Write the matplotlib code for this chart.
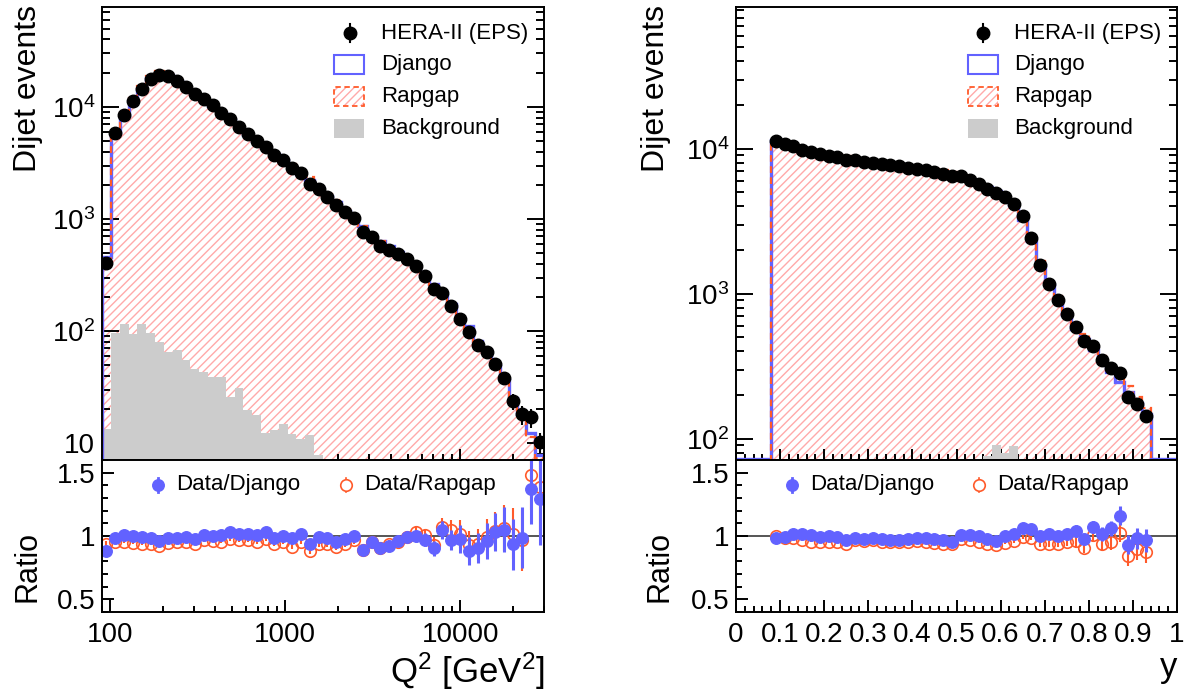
import numpy as np
import matplotlib
matplotlib.use('Agg')
import matplotlib.pyplot as plt
from matplotlib.patches import Rectangle
from matplotlib.ticker import FixedLocator, FixedFormatter, NullFormatter, MultipleLocator, LogLocator

plt.rcParams['font.family'] = ['Liberation Sans', 'DejaVu Sans']
plt.rcParams['mathtext.fontset'] = 'custom'
plt.rcParams['mathtext.rm'] = 'Liberation Sans'
plt.rcParams['mathtext.it'] = 'Liberation Sans:italic'
plt.rcParams['mathtext.bf'] = 'Liberation Sans:bold'
plt.rcParams['hatch.linewidth'] = 1.0

# ---------------- data: Q^2 ----------------
q2_edges = np.logspace(np.log10(90), np.log10(30000), 51)
q2_data = np.array([405, 5860, 8440, 11300, 14500, 17900, 19200, 18800, 16900, 15100,
                    13000, 11800, 10300, 8840, 7870, 6630, 5740, 4940, 4420, 3720,
                    3360, 2830, 2570, 2070, 1870, 1570, 1340, 1160, 1010, 766,
                    691, 578, 525, 490, 436, 383, 312, 237, 218, 168,
                    128, 97, 74.5, 65.3, 50.7, 38.3, 23.5, 18.0, 16.9, 10.2])
q2_data_relerr = np.array([0.03, 0.01, 0.01, 0.01, 0.01, 0.01, 0.01, 0.01, 0.01, 0.01,
                           0.01, 0.01, 0.01, 0.01, 0.01, 0.012, 0.013, 0.014, 0.015, 0.016,
                           0.017, 0.019, 0.02, 0.022, 0.023, 0.025, 0.027, 0.029, 0.031, 0.036,
                           0.038, 0.042, 0.044, 0.045, 0.048, 0.051, 0.057, 0.065, 0.068, 0.077,
                           0.088, 0.10, 0.11, 0.12, 0.10, 0.12, 0.17, 0.20, 0.20, 0.20])
q2_bg = np.array([13.3, 96, 115, 94, 116, 96, 80, 65, 68, 55,
                  46, 43, 39, 39, 25.5, 31, 19.9, 17.9, 12.4, 13.0,
                  14.9, 12.0, 10.9, 11.9, 7.8, 0, 0, 0, 0, 0,
                  0, 0, 0, 0, 0, 0, 0, 0, 0, 0,
                  0, 0, 0, 0, 0, 0, 0, 0, 0, 0])
q2_ratio_django = np.array([0.881, 0.981, 1.011, 1.000, 0.995, 0.987, 0.960, 0.981, 0.987, 0.992,
                            0.974, 1.008, 1.003, 1.008, 1.032, 1.019, 1.019, 1.005, 1.034, 0.987,
                            1.003, 0.987, 1.013, 0.939, 0.992, 0.981, 0.955, 0.976, 1.003, 0.886,
                            0.955, 0.907, 0.918, 0.960, 0.995, 0.997, 0.971, 0.902, 1.045, 0.968,
                            0.976, 0.881, 0.907, 0.960, 1.034, 1.050, 0.934, 0.987, 1.373, 1.296])
q2_ratio_rapgap = np.array([0.934, 0.955, 0.955, 0.947, 0.939, 0.939, 0.921, 0.947, 0.950, 0.955,
                            0.939, 0.966, 0.960, 0.955, 0.974, 0.966, 0.966, 0.955, 0.974, 0.939,
                            0.955, 0.915, 0.955, 0.881, 0.939, 0.934, 0.913, 0.939, 0.966, 0.886,
                            0.955, 0.907, 0.934, 0.955, 0.992, 1.034, 1.008, 0.929, 1.071, 1.050,
                            1.019, 0.929, 0.934, 0.992, 1.040, 1.061, 1.019, 0.966, 1.484, 1.384])
q2_ratio_err = np.array([0.03, 0.01, 0.01, 0.01, 0.01, 0.01, 0.01, 0.01, 0.01, 0.01,
                         0.01, 0.01, 0.01, 0.012, 0.012, 0.013, 0.014, 0.015, 0.016, 0.017,
                         0.018, 0.019, 0.02, 0.022, 0.023, 0.024, 0.026, 0.028, 0.03, 0.032,
                         0.034, 0.036, 0.038, 0.04, 0.042, 0.045, 0.05, 0.06, 0.07, 0.08,
                         0.11, 0.11, 0.12, 0.14, 0.15, 0.18, 0.20, 0.24, 0.28, 0.37])

# ---------------- data: y ----------------
y_edges = np.linspace(0.08, 0.94, 44)
y_data = np.array([11240, 10770, 10380, 9840, 9480, 9190, 8950, 8710, 8350, 8350,
                   8130, 8000, 7880, 7670, 7550, 7360, 7240, 7090, 6900, 6720,
                   6440, 6440, 6080, 5740, 5270, 4940, 4640, 4170, 3440, 2440,
                   1570, 1170, 902, 726, 593, 475, 439, 349, 306, 286,
                   195, 173, 143])
y_data_relerr = np.array([0.01] * 28 + [0.012, 0.014, 0.018, 0.02, 0.023, 0.026, 0.028,
                                        0.032, 0.034, 0.038, 0.04, 0.042, 0.05, 0.053, 0.058])
y_bg = np.array([0] * 24 + [76, 90, 80, 89] + [0] * 15)
y_ratio_django = np.array([0.981, 0.995, 1.013, 1.013, 1.005, 0.992, 0.997, 0.995, 0.966, 0.981,
                           0.979, 0.987, 0.974, 0.966, 0.966, 0.974, 0.987, 0.987, 0.974, 0.968,
                           0.955, 1.005, 1.005, 1.000, 0.974, 0.960, 1.000, 1.019, 1.066, 1.056,
                           0.997, 1.019, 1.000, 1.013, 1.040, 0.974, 1.071, 1.013, 1.061, 1.159,
                           0.929, 0.981, 0.966])
y_ratio_rapgap = np.array([1.000, 0.987, 0.981, 0.966, 0.955, 0.955, 0.955, 0.955, 0.939, 0.968,
                           0.960, 0.966, 0.955, 0.955, 0.955, 0.955, 0.960, 0.955, 0.947, 0.939,
                           0.934, 0.974, 0.968, 0.955, 0.939, 0.929, 0.947, 0.960, 0.992, 0.981,
                           0.934, 0.939, 0.939, 0.952, 0.960, 0.902, 1.005, 0.934, 0.952, 1.026,
                           0.841, 0.894, 0.876])
y_ratio_err = np.array([0.006] * 13 + [0.007] * 5 + [0.008] * 4 + [0.009, 0.009, 0.01, 0.01, 0.01,
                       0.012, 0.013, 0.016, 0.02, 0.023, 0.027, 0.03, 0.05, 0.035, 0.05,
                       0.055, 0.06, 0.075, 0.075, 0.08, 0.09])

# MC predictions follow from Data/MC ratios
q2_django = q2_data / q2_ratio_django
q2_rapgap = q2_data / q2_ratio_rapgap
y_django = y_data / y_ratio_django
y_rapgap = y_data / y_ratio_rapgap

# ---------------- style ----------------
DJ = '#6262ff'
RG = '#ff5a2a'
HATCH = '#ffaaaa'
BG = '#cccccc'
TICKFS = 20
LEGFS = 16
TITLEFS = 23
LW = 1.4
MS = 9.0

W, H = 1192, 693
fig = plt.figure(figsize=(W / 100, H / 100), dpi=100)


def fax(x0, y0, x1, y1):
    return fig.add_axes([x0 / W, 1 - y1 / H, (x1 - x0) / W, (y1 - y0) / H])


axL = fax(102, 7, 544, 460)
rL = fax(102, 460, 544, 612)
axR = fax(736, 7, 1177, 460)
rR = fax(736, 460, 1177, 612)

for a in (axL, rL, axR, rR):
    for s in a.spines.values():
        s.set_linewidth(LW)
        s.set_zorder(10)


def draw_upper(ax, edges, centers, data, relerr, dj, rg, bg, base):
    ax.stairs(rg, edges, baseline=base, fill=True, hatch='////', facecolor='none',
              edgecolor=HATCH, linewidth=0, zorder=1)
    bgp = np.where(bg > 0, bg, base)
    ax.stairs(bgp, edges, baseline=base, fill=True, facecolor=BG, edgecolor='none',
              linewidth=0, zorder=2)
    ax.stairs(dj, edges, baseline=base, color=DJ, lw=2.4, zorder=3)
    ax.stairs(rg, edges, baseline=base, color=RG, lw=1.6, ls=(0, (3, 2)), zorder=4)
    ax.errorbar(centers, data, yerr=data * relerr, fmt='o', color='k', ms=MS,
                elinewidth=1.5, capsize=0, zorder=6, clip_on=True)


def draw_ratio(ax, centers, rdj, rrg, err):
    ax.axhline(1.0, color='#555555', lw=1.4, zorder=1)
    ax.errorbar(centers, rrg, yerr=err, fmt='o', mfc='none', mec=RG, ecolor=RG, mew=1.2,
                ms=8.3, elinewidth=1.5, capsize=0, zorder=3)
    ax.errorbar(centers, rdj, yerr=err, fmt='o', color=DJ, ms=8.3,
                elinewidth=2.2, capsize=0, zorder=4)
    ax.set_ylim(0.4, 1.6)
    ax.yaxis.set_major_locator(FixedLocator([0.5, 1.0, 1.5]))
    ax.yaxis.set_major_formatter(FixedFormatter(['0.5', '1', '1.5']))
    ax.yaxis.set_minor_locator(MultipleLocator(0.1))
    ax.tick_params(axis='y', which='major', direction='in', length=8.5, width=LW,
                   left=True, right=False, labelsize=TICKFS, pad=5)
    ax.tick_params(axis='y', which='minor', direction='in', length=4.3, width=LW,
                   left=True, right=False)
    ax.tick_params(axis='x', which='major', direction='in', length=8.5, width=LW,
                   top=False, bottom=True, labelsize=TICKFS, pad=7)
    ax.tick_params(axis='x', which='minor', direction='in', length=4.3, width=LW,
                   top=False, bottom=True)
    # legend
    t = ax.transAxes
    yl = 0.836
    ax.plot([0.127, 0.127], [yl - 0.046, yl + 0.046], color=DJ, lw=2, transform=t, zorder=5)
    ax.plot([0.127], [yl], 'o', color=DJ, ms=8.3, transform=t, zorder=5)
    ax.text(0.167, yl, 'Data/Django', transform=t, fontsize=LEGFS, va='center', ha='left')
    ax.plot([0.552, 0.552], [yl - 0.046, yl + 0.046], color=RG, lw=1.2, transform=t, zorder=5)
    ax.plot([0.552], [yl], 'o', mfc='white', mec=RG, mew=1.2, ms=8.3, transform=t, zorder=6)
    ax.text(0.593, yl, 'Data/Rapgap', transform=t, fontsize=LEGFS, va='center', ha='left')


def upper_ticks(ax):
    ax.tick_params(axis='y', which='major', direction='in', length=12, width=LW,
                   left=True, right=True, labelsize=TICKFS, pad=5)
    ax.tick_params(axis='y', which='minor', direction='in', length=5.8, width=LW,
                   left=True, right=True)
    ax.tick_params(axis='x', which='major', direction='in', length=8, width=LW,
                   top=False, bottom=True, labelbottom=False)
    ax.tick_params(axis='x', which='minor', direction='in', length=4.3, width=LW,
                   top=False, bottom=True, labelbottom=False)


def legend_upper(ax):
    t = ax.transAxes
    bx0, bx1 = 0.5256, 0.5934
    bh = 0.042
    rows = [0.942, 0.874, 0.802, 0.731]
    tx = 0.6305
    ax.plot([0.561, 0.561], [rows[0] - 0.02, rows[0] + 0.02], color='k', lw=1.5, transform=t, zorder=7)
    ax.plot([0.561], [rows[0]], 'o', color='k', ms=MS, transform=t, zorder=7)
    ax.text(tx, rows[0], 'HERA-II (EPS)', transform=t, fontsize=LEGFS, va='center', ha='left')
    ax.add_patch(Rectangle((bx0, rows[1] - bh / 2), bx1 - bx0, bh, transform=t,
                           facecolor='white', edgecolor=DJ, lw=1.5, zorder=7))
    ax.text(tx, rows[1], 'Django', transform=t, fontsize=LEGFS, va='center', ha='left')
    ax.add_patch(Rectangle((bx0, rows[2] - bh / 2), bx1 - bx0, bh, transform=t,
                           facecolor='white', edgecolor='none', lw=0, zorder=7))
    ax.add_patch(Rectangle((bx0, rows[2] - bh / 2), bx1 - bx0, bh, transform=t, hatch='////',
                           facecolor='none', edgecolor=HATCH, lw=0, zorder=7))
    ax.add_patch(Rectangle((bx0, rows[2] - bh / 2), bx1 - bx0, bh, transform=t,
                           facecolor='none', edgecolor=RG, lw=1.3, ls=(0, (3, 2)), zorder=8))
    ax.text(tx, rows[2], 'Rapgap', transform=t, fontsize=LEGFS, va='center', ha='left')
    ax.add_patch(Rectangle((bx0, rows[3] - bh / 2), bx1 - bx0, bh, transform=t,
                           facecolor=BG, edgecolor='none', lw=0, zorder=7))
    ax.text(tx, rows[3], 'Background', transform=t, fontsize=LEGFS, va='center', ha='left')


# ---------------- left: Q^2 ----------------
q2_centers = np.sqrt(q2_edges[:-1] * q2_edges[1:])
draw_upper(axL, q2_edges, q2_centers, q2_data, q2_data_relerr, q2_django, q2_rapgap, q2_bg, 1.0)
axL.set_xscale('log')
axL.set_yscale('log')
axL.set_xlim(90, 30000)
axL.set_ylim(7.05, 78000)
axL.yaxis.set_major_locator(FixedLocator([10, 100, 1000, 10000]))
axL.yaxis.set_major_formatter(FixedFormatter(['10', r'$10^{2}$', r'$10^{3}$', r'$10^{4}$']))
axL.yaxis.set_minor_locator(LogLocator(base=10, subs=np.arange(2, 10)))
axL.yaxis.set_minor_formatter(NullFormatter())
axL.xaxis.set_major_locator(FixedLocator([100, 1000, 10000]))
axL.xaxis.set_minor_locator(LogLocator(base=10, subs=np.arange(2, 10)))
axL.xaxis.set_minor_formatter(NullFormatter())
upper_ticks(axL)
legend_upper(axL)

draw_ratio(rL, q2_centers, q2_ratio_django, q2_ratio_rapgap, q2_ratio_err)
rL.set_xscale('log')
rL.set_xlim(90, 30000)
rL.xaxis.set_major_locator(FixedLocator([100, 1000, 10000]))
rL.xaxis.set_major_formatter(FixedFormatter(['100', '1000', '10000']))
rL.xaxis.set_minor_locator(LogLocator(base=10, subs=np.arange(2, 10)))
rL.xaxis.set_minor_formatter(NullFormatter())

# ---------------- right: y ----------------
y_centers = 0.5 * (y_edges[:-1] + y_edges[1:])
draw_upper(axR, y_edges, y_centers, y_data, y_data_relerr, y_django, y_rapgap, y_bg, 10.0)
axR.plot([0.0, y_edges[0]], [0.003, 0.003], color=DJ, lw=2.4,
         transform=axR.get_xaxis_transform(), zorder=3)
axR.plot([y_edges[-1], 1.0], [0.003, 0.003], color=DJ, lw=2.4,
         transform=axR.get_xaxis_transform(), zorder=3)
axR.set_yscale('log')
axR.set_xlim(0, 1)
axR.set_ylim(71.3, 95000)
axR.yaxis.set_major_locator(FixedLocator([100, 1000, 10000]))
axR.yaxis.set_major_formatter(FixedFormatter([r'$10^{2}$', r'$10^{3}$', r'$10^{4}$']))
axR.yaxis.set_minor_locator(LogLocator(base=10, subs=np.arange(2, 10)))
axR.yaxis.set_minor_formatter(NullFormatter())
axR.xaxis.set_major_locator(MultipleLocator(0.1))
axR.xaxis.set_minor_locator(MultipleLocator(0.02))
upper_ticks(axR)
legend_upper(axR)

draw_ratio(rR, y_centers, y_ratio_django, y_ratio_rapgap, y_ratio_err)
rR.set_xlim(0, 1)
rR.xaxis.set_major_locator(FixedLocator([0, 0.1, 0.2, 0.3, 0.4, 0.5, 0.6, 0.7, 0.8, 0.9, 1.0]))
rR.xaxis.set_major_formatter(FixedFormatter(['0', '0.1', '0.2', '0.3', '0.4', '0.5', '0.6',
                                             '0.7', '0.8', '0.9', '1']))
rR.xaxis.set_minor_locator(MultipleLocator(0.02))

# ---------------- axis titles ----------------
fig.text(28 / W, 1 - 5 / H, 'Dijet events', rotation=90, ha='center', va='top', fontsize=TITLEFS)
fig.text(28 / W, 1 - 567 / H, 'Ratio', rotation=90, ha='center', va='center', fontsize=22)
fig.text(656 / W, 1 - 5 / H, 'Dijet events', rotation=90, ha='center', va='top', fontsize=TITLEFS)
fig.text(660 / W, 1 - 567 / H, 'Ratio', rotation=90, ha='center', va='center', fontsize=22)
fig.text(545 / W, 1 - 671 / H, r'Q$^{2}$ [GeV$^{2}$]', ha='right', va='center', fontsize=25)
fig.text(1177 / W, 1 - 668 / H, 'y', ha='right', va='center', fontsize=25)

fig.savefig('out.png', dpi=100)
